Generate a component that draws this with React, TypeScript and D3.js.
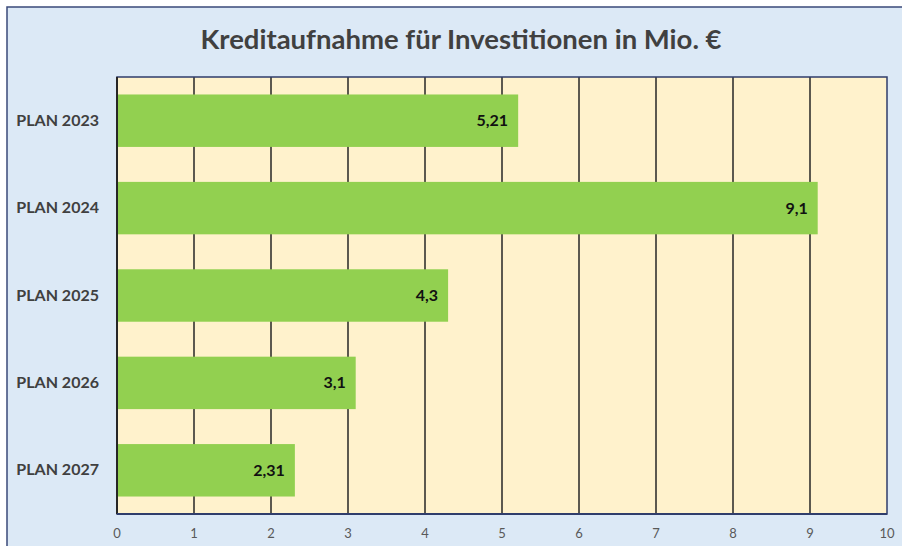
import * as React from "react";
import * as d3 from "d3";

const categories = ["PLAN 2023", "PLAN 2024", "PLAN 2025", "PLAN 2026", "PLAN 2027"];
const values = [5.21, 9.1, 4.3, 3.1, 2.31];
const valueLabels = ["5,21", "9,1", "4,3", "3,1", "2,31"];
const xTicks = [0, 1, 2, 3, 4, 5, 6, 7, 8, 9, 10];
const title = "Kreditaufnahme für Investitionen in Mio. €";

const W = 902, H = 546;
const margin = {top: 77, right: 15, bottom: 32, left: 117};
const font = "Lato, 'Open Sans', sans-serif";

export default function App() {
  const x = d3.scaleLinear().domain([0, 10]).range([margin.left, W - margin.right]);
  const y = d3.scaleBand()
    .domain(categories)
    .range([margin.top, H - margin.bottom])
    .paddingInner(0.4)
    .paddingOuter(0.2);

  const plotW = x(10) - x(0);
  const plotH = H - margin.bottom - margin.top;

  return (
    <svg width={W} height={H} style={{position: "absolute", left: 0, top: 0}} fontFamily={font}>
      <rect x={0} y={0} width={W} height={H} fill="#ffffff"/>
      <rect x={7} y={7} width={W} height={H} fill="#dce9f6" stroke="#3a4a7a" strokeWidth={1.5}/>
      <text x={461} y={48.5} textAnchor="middle" fontSize={27.5} fontWeight="bold" fill="#404040">{title}</text>

      <rect x={x(0)} y={margin.top} width={plotW} height={plotH} fill="#fff2cc"/>
      {xTicks.slice(1, -1).map(t => (
        <line key={t} x1={x(t)} x2={x(t)} y1={margin.top} y2={margin.top + plotH} stroke="#262626" strokeWidth={1.5}/>
      ))}

      {categories.map((c, i) => (
        <rect key={c} x={x(0)} y={y(c)} width={x(values[i]) - x(0)} height={y.bandwidth()} fill="#92d050"/>
      ))}

      <rect x={x(0)} y={margin.top} width={plotW} height={plotH} fill="none" stroke="#2f3d6b" strokeWidth={1.5}/>
      <line x1={x(0)} x2={x(0)} y1={margin.top} y2={margin.top + plotH} stroke="#262626" strokeWidth={2}/>
      <line x1={x(0)} x2={x(10)} y1={margin.top + plotH} y2={margin.top + plotH} stroke="#2f3d6b" strokeWidth={2}/>

      {categories.map((c, i) => (
        <text key={c} x={x(values[i]) - 10} y={(y(c) ?? 0) + y.bandwidth() / 2 + 5.5}
              textAnchor="end" fontSize={16} fontWeight="bold" fill="#111111">{valueLabels[i]}</text>
      ))}

      {categories.map(c => (
        <text key={c} x={99} y={(y(c) ?? 0) + y.bandwidth() / 2 + 5}
              textAnchor="end" fontSize={16} fontWeight="bold" fill="#404040">{c}</text>
      ))}

      {xTicks.map(t => (
        <text key={t} x={x(t)} y={538} textAnchor="middle" fontSize={13} fill="#595959">{t}</text>
      ))}
    </svg>
  );
}
